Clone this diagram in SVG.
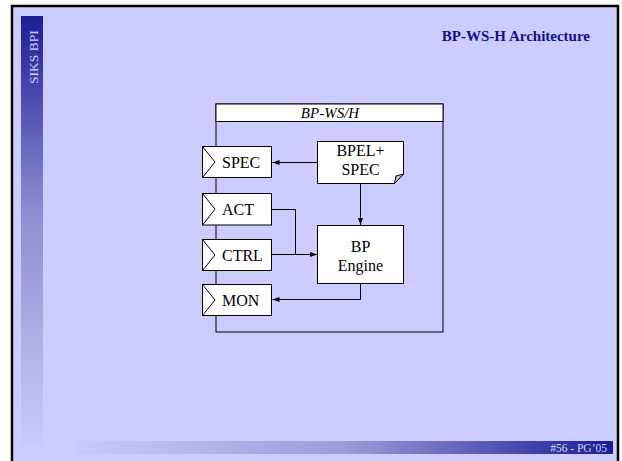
<svg xmlns="http://www.w3.org/2000/svg" width="622" height="461" viewBox="0 0 622 461">
<defs>
<linearGradient id="side" x1="0" y1="0" x2="0" y2="1">
<stop offset="0" stop-color="#1c1c96"/>
<stop offset="0.45" stop-color="#8c8cd0"/>
<stop offset="1" stop-color="#cacafa"/>
</linearGradient>
<linearGradient id="foot" x1="0" y1="0" x2="1" y2="0">
<stop offset="0" stop-color="#cacafa"/>
<stop offset="0.5" stop-color="#9c9cd8"/>
<stop offset="1" stop-color="#1c1c96"/>
</linearGradient>
<marker id="arr" markerWidth="8" markerHeight="8" refX="7" refY="4" orient="auto" markerUnits="userSpaceOnUse">
<path d="M0,1.5 L7,4 L0,6.5 Z" fill="#000"/>
</marker>
<style>
.box{fill:#fff;stroke:#000;stroke-width:1}
.con{fill:none;stroke:#000;stroke-width:1}
</style>
</defs>
<rect x="0" y="0" width="622" height="461" fill="#fff"/>
<rect x="12" y="6" width="606" height="460" fill="#ccccff" stroke="#000" stroke-width="2.5"/>
<rect x="21" y="16" width="22" height="428" fill="url(#side)"/>
<text x="37.5" y="84" transform="rotate(-90 37.5 84)" font-family="'Liberation Serif', serif" font-size="13.5" fill="#d0d0f4">SIKS BPI</text>
<text x="590" y="41" text-anchor="end" font-family="'Liberation Serif', serif" font-size="15" font-weight="bold" fill="#10108a">BP-WS-H Architecture</text>
<rect x="75" y="441" width="538" height="13" fill="url(#foot)"/>
<text x="607" y="451.5" text-anchor="end" font-family="'Liberation Serif', serif" font-size="11.5" fill="#d4d4fa">#56 - PG’05</text>

<g id="container" font-family="'Liberation Serif', serif">
<rect x="216" y="104" width="227" height="228" fill="none" stroke="#000" stroke-width="1"/>
<rect x="216" y="104" width="227" height="17.5" class="box"/>
<text x="330" y="118" text-anchor="middle" font-style="italic" font-size="15">BP-WS/H</text>
</g>

<g id="connectors">
<path class="con" d="M317,162.5 L272.5,162.5" marker-end="url(#arr)"/>
<path class="con" d="M360.5,183 L360.5,225" marker-end="url(#arr)"/>
<path class="con" d="M272,209.5 L295.5,209.5 L295.5,254.5"/>
<path class="con" d="M272,254.5 L317,254.5" marker-end="url(#arr)"/>
<path class="con" d="M360.5,283 L360.5,299.5 L272.5,299.5" marker-end="url(#arr)"/>
</g>

<g id="spec" font-family="'Liberation Serif', serif" font-size="16">
<rect x="202.5" y="146.5" width="69" height="31" class="box"/>
<path class="con" d="M202.5,146.5 L215,162 L202.5,177.5"/>
<text x="222" y="168">SPEC</text>
</g>
<g id="act" font-family="'Liberation Serif', serif" font-size="16">
<rect x="202.5" y="193.5" width="69" height="31.5" class="box"/>
<path class="con" d="M202.5,193.5 L215,209.25 L202.5,225"/>
<text x="222" y="215">ACT</text>
</g>
<g id="ctrl" font-family="'Liberation Serif', serif" font-size="16">
<rect x="202.5" y="239.5" width="69" height="31" class="box"/>
<path class="con" d="M202.5,239.5 L215,255 L202.5,270.5"/>
<text x="222" y="261">CTRL</text>
</g>
<g id="mon" font-family="'Liberation Serif', serif" font-size="16">
<rect x="202.5" y="284.5" width="69" height="31" class="box"/>
<path class="con" d="M202.5,284.5 L215,300 L202.5,315.5"/>
<text x="222" y="306">MON</text>
</g>

<g id="bpel" font-family="'Liberation Serif', serif" font-size="16" text-anchor="middle">
<path class="box" d="M317.5,141.5 L403.5,141.5 L403.5,174 L394.5,183.5 L317.5,183.5 Z"/>
<path d="M394.5,183.5 L396,176 L403.5,174 Z" fill="#c8c8c8" stroke="#000" stroke-width="1"/>
<text x="360.5" y="156">BPEL+</text>
<text x="360.5" y="175">SPEC</text>
</g>

<g id="engine" font-family="'Liberation Serif', serif" font-size="16" text-anchor="middle">
<rect x="317.5" y="225.5" width="86" height="58" class="box"/>
<text x="360.5" y="252">BP</text>
<text x="360.5" y="271">Engine</text>
</g>
</svg>
